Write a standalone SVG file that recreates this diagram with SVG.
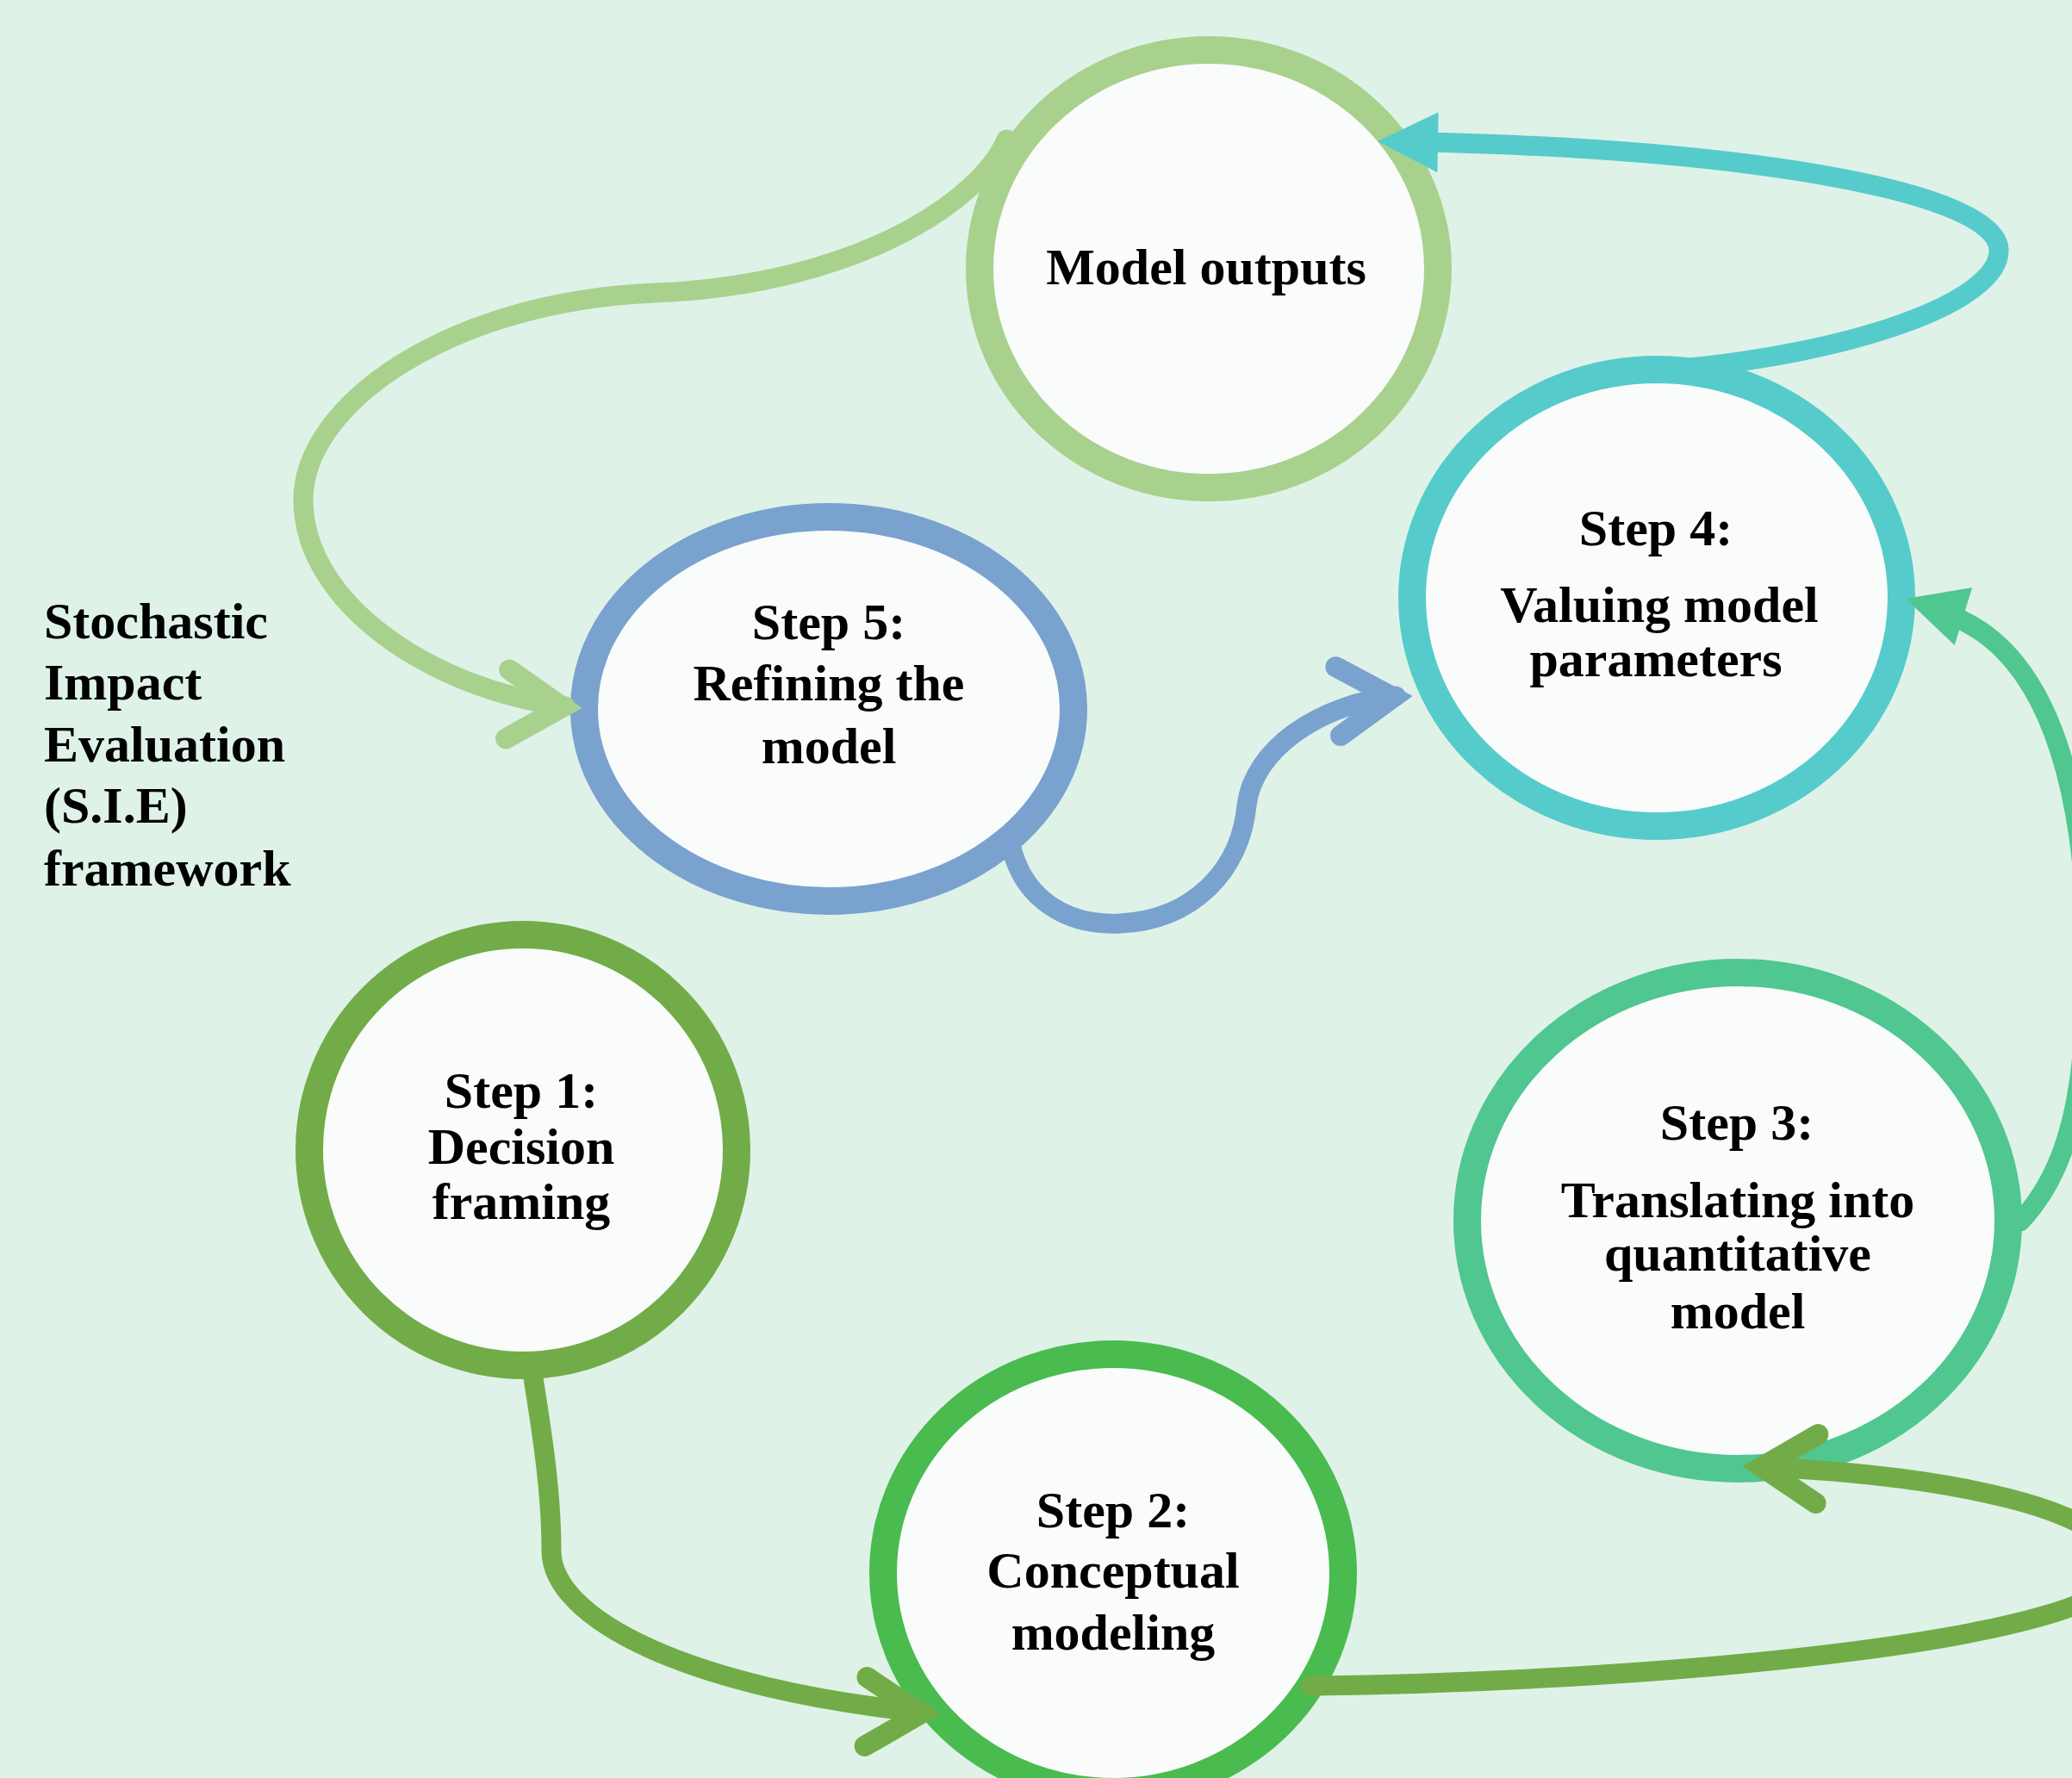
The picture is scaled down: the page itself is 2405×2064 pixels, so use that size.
<svg xmlns="http://www.w3.org/2000/svg" xmlns:xlink="http://www.w3.org/1999/xlink" width="2405" height="2064" viewBox="0 0 2405 2064">
  <style>
    .bg { fill: #DFF2E8; }
    .node { fill: #FAFCFB; stroke-width: 32; }
    .lbl { font-family: "Liberation Serif", "Times New Roman", serif; font-weight: bold; font-size: 60px; fill: #000; text-anchor: middle; }
    .title { font-family: "Liberation Serif", "Times New Roman", serif; font-weight: bold; font-size: 60px; fill: #000; }
    .edge { fill: none; stroke-width: 23; stroke-linecap: round; stroke-linejoin: round; }
    .chev { fill: none; stroke-width: 24; stroke-linecap: round; stroke-linejoin: miter; stroke-miterlimit: 6; }
    .c-lg { stroke: #A9D18E; }
    .c-bl { stroke: #7AA2CE; }
    .c-tl { stroke: #56CBCB; }
    .c-g1 { stroke: #72AC48; }
    .c-g2 { stroke: #4ABB4F; }
    .c-g3 { stroke: #50C690; }
    .f-tl { fill: #56CBCB; }
    .f-g3 { fill: #50C690; }
  </style>
  <defs>
    <path id="chevron" d="M -87 -40 L -23 0 L -87 40"/>
    <path id="tri" d="M 0 0 L -70 -35 L -70 35 Z"/>
  </defs>
  <rect class="bg" x="0" y="0" width="2405" height="2064"/>

  <g id="nodes">
    <g id="node-model-outputs">
      <ellipse class="node c-lg" cx="1403" cy="312" rx="266" ry="254"/>
      <text class="lbl" x="1400" y="330">Model outputs</text>
    </g>
    <g id="node-step5">
      <ellipse class="node c-bl" cx="962" cy="823" rx="284" ry="223"/>
      <text class="lbl" x="962" y="742">Step 5:</text>
      <text class="lbl" x="962" y="813">Refining the</text>
      <text class="lbl" x="962" y="886">model</text>
    </g>
    <g id="node-step4">
      <ellipse class="node c-tl" cx="1923" cy="694" rx="284" ry="265"/>
      <text class="lbl" x="1922" y="633">Step 4:</text>
      <text class="lbl" x="1926" y="722">Valuing model</text>
      <text class="lbl" x="1922" y="785">parameters</text>
    </g>
    <g id="node-step1">
      <ellipse class="node c-g1" cx="607" cy="1335" rx="248" ry="250"/>
      <text class="lbl" x="605" y="1286">Step 1:</text>
      <text class="lbl" x="605" y="1351">Decision</text>
      <text class="lbl" x="605" y="1415">framing</text>
    </g>
    <g id="node-step2">
      <ellipse class="node c-g2" cx="1292" cy="1826" rx="267" ry="254"/>
      <text class="lbl" x="1292" y="1773">Step 2:</text>
      <text class="lbl" x="1292" y="1843">Conceptual</text>
      <text class="lbl" x="1292" y="1915">modeling</text>
    </g>
    <g id="node-step3">
      <ellipse class="node c-g3" cx="2017" cy="1417" rx="314" ry="288"/>
      <text class="lbl" x="2016" y="1323">Step 3:</text>
      <text class="lbl" x="2017" y="1413">Translating into</text>
      <text class="lbl" x="2017" y="1475">quantitative</text>
      <text class="lbl" x="2017" y="1542">model</text>
    </g>
  </g>

  <g id="connectors">
    <g id="edge-step1-step2">
      <path class="edge c-g1" d="M 619 1600 C 632 1680, 640 1740, 640 1800 C 640 1880, 800 1960, 1072 1988"/>
      <use xlink:href="#chevron" href="#chevron" class="chev c-g1" transform="translate(1092,1990) rotate(2)"/>
    </g>
    <g id="edge-step2-step3">
      <path class="edge c-g1" d="M 1522 1957 C 1950 1952, 2460 1900, 2460 1822 C 2460 1750, 2250 1712, 2045 1703"/>
      <use xlink:href="#chevron" href="#chevron" class="chev c-g1" transform="translate(2022,1702) rotate(182)"/>
    </g>
    <g id="edge-step3-step4">
      <path class="edge c-g3" d="M 2345 1418 C 2390 1370, 2415 1300, 2420 1180 C 2430 980, 2400 770, 2268 716"/>
      <use xlink:href="#tri" href="#tri" class="f-g3" transform="translate(2212,695) rotate(197)"/>
    </g>
    <g id="edge-step4-model">
      <path class="edge c-tl" d="M 1928 430 C 2150 412, 2322 350, 2320 290 C 2318 225, 2050 175, 1660 165"/>
      <use xlink:href="#tri" href="#tri" class="f-tl" transform="translate(1599,164) rotate(181)"/>
    </g>
    <g id="edge-step5-step4">
      <path class="edge c-bl" d="M 1172 975 C 1185 1045, 1240 1075, 1300 1072 C 1385 1068, 1440 1010, 1447 935 C 1455 870, 1530 818, 1620 808"/>
      <use xlink:href="#chevron" href="#chevron" class="chev c-bl" transform="translate(1640,808) rotate(-4)"/>
    </g>
    <g id="edge-model-step5">
      <path class="edge c-lg" d="M 1168 162 C 1140 230, 1000 330, 760 340 C 520 350, 352 470, 352 580 C 352 700, 500 800, 656 820"/>
      <use xlink:href="#chevron" href="#chevron" class="chev c-lg" transform="translate(676,822) rotate(3)"/>
    </g>
  </g>

  <g id="title">
    <text class="title" x="51" y="741">Stochastic</text>
    <text class="title" x="51" y="812">Impact</text>
    <text class="title" x="51" y="884">Evaluation</text>
    <text class="title" x="51" y="955">(S.I.E)</text>
    <text class="title" x="51" y="1028">framework</text>
  </g>
</svg>
